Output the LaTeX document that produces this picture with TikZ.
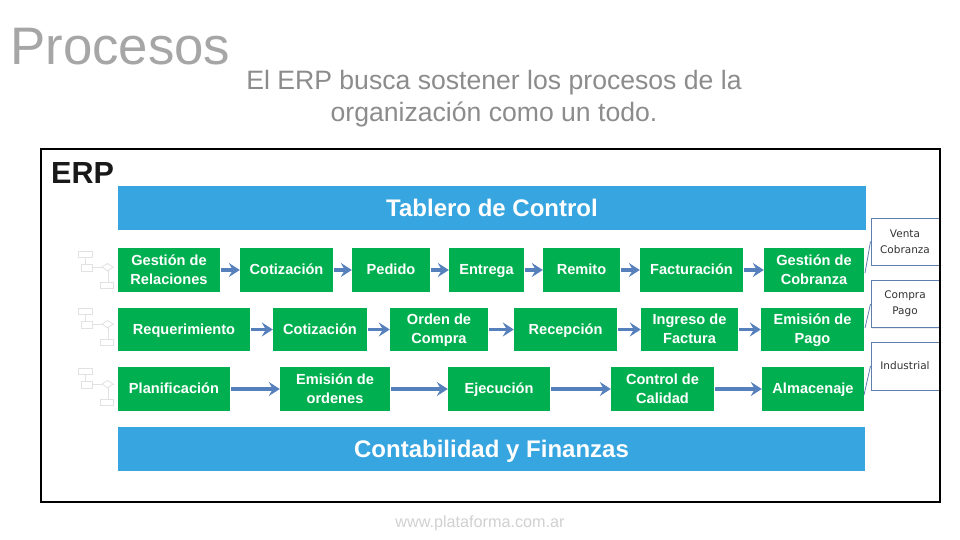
\documentclass[tikz,border=0pt]{standalone}
\usepackage{fontspec}
\setmainfont{Liberation Sans}
\newfontfamily\calloutfont{DejaVu Sans}
\usetikzlibrary{arrows.meta,shapes.geometric,shadows}
\definecolor{gboxc}{HTML}{00B050}
\definecolor{bboxc}{HTML}{36A5E0}
\definecolor{arrowc}{HTML}{5580BC}
\definecolor{titlec}{HTML}{A6A6A6}
\definecolor{subc}{HTML}{8C8C8C}
\definecolor{callc}{HTML}{5F7FAE}
\definecolor{iconc}{HTML}{E2E2E2}
\newcommand\gst{\vrule width 0pt height 13pt depth 3.5pt\relax}
\tikzset{
  x=1pt,y=-1pt,
  gbox/.style={fill=gboxc,text=white,font=\fontsize{14.6}{19}\selectfont\bfseries,align=center,inner sep=0pt,minimum height=44pt},
  bbox/.style={fill=bboxc,text=white,font=\fontsize{24}{27}\selectfont\bfseries,align=center,inner sep=0pt,minimum height=44pt,text height=19pt,text depth=3pt},
  flow/.style={draw=arrowc,line width=3.2pt,shorten <=1pt,-{Stealth[length=11pt,width=14pt,inset=4pt]}},
  callbox/.style={draw=callc,line width=1pt,fill=white,font=\calloutfont\fontsize{10.5}{15.8}\selectfont,text=black!80,align=center,inner sep=0pt,minimum width=68pt,minimum height=47pt},
  callline/.style={draw=callc,line width=0.8pt},
  iconbox/.style={draw=iconc,line width=0.8pt,fill=white,inner sep=0pt},
  iconline/.style={draw=iconc,line width=0.8pt},
  flowicon/.pic={
    \draw[iconline] (-2,3) -- (-2,17) (3,16) -- (27,16) (21,16) -- (21,33);
    \draw[iconbox] (-9,0) rectangle (5,6);
    \draw[iconbox] (-6,13) rectangle (5,20);
    \draw[iconbox] (15,16) -- (20.5,12.5) -- (26,16) -- (20.5,20) -- cycle;
    \draw[iconbox] (13,31) rectangle (26,37);
  }
}
\begin{document}
\begin{tikzpicture}
\useasboundingbox (0,0) rectangle (960,540);
\fill[white] (0,0) rectangle (960,540);

\node[anchor=west,inner sep=0pt,text=titlec,font=\fontsize{52.8}{60}\selectfont] (title) at (10,47) {Procesos};
\node[align=center,inner sep=0pt,text=subc,font=\fontsize{26.6}{32}\selectfont] (sub) at (494,99) {El ERP busca sostener los procesos de la\\organización como un todo.};

\node[anchor=west,inner sep=0pt,font=\fontsize{30.5}{34}\selectfont\bfseries,text=black!90] (erp) at (51,173) {ERP};

\node[bbox,minimum width=748pt] (tablero) at (492,208) {Tablero de Control};
\node[bbox,minimum width=747pt] (conta) at (491.5,449) {Contabilidad y Finanzas};

% row 1
\node[gbox,minimum width=102pt] (a1) at (169,270) {\gst Gestión de\\\gst Relaciones};
\node[gbox,minimum width=93pt] (a2) at (286.5,270) {\gst Cotización};
\node[gbox,minimum width=78pt] (a3) at (391,270) {\gst Pedido};
\node[gbox,minimum width=75pt] (a4) at (486.5,270) {\gst Entrega};
\node[gbox,minimum width=77pt] (a5) at (581.5,270) {\gst Remito};
\node[gbox,minimum width=103pt] (a6) at (691.5,270) {\gst Facturación};
\node[gbox,minimum width=100pt] (a7) at (814,270) {\gst Gestión de\\\gst Cobranza};
% row 2
\node[gbox,minimum width=132pt,minimum height=43pt] (b1) at (184,329.5) {\gst Requerimiento};
\node[gbox,minimum width=94pt,minimum height=43pt] (b2) at (320,329.5) {\gst Cotización};
\node[gbox,minimum width=98pt,minimum height=43pt] (b3) at (439,329.5) {\gst Orden de\\\gst Compra};
\node[gbox,minimum width=103pt,minimum height=43pt] (b4) at (565.5,329.5) {\gst Recepción};
\node[gbox,minimum width=97pt,minimum height=43pt] (b5) at (689.5,329.5) {\gst Ingreso de\\\gst Factura};
\node[gbox,minimum width=103pt,minimum height=43pt] (b6) at (812.5,329.5) {\gst Emisión de\\\gst Pago};
% row 3
\node[gbox,minimum width=112pt] (c1) at (174,389) {\gst Planificación};
\node[gbox,minimum width=110pt] (c2) at (335,389) {\gst Emisión de\\\gst ordenes};
\node[gbox,minimum width=102pt] (c3) at (499,389) {\gst Ejecución};
\node[gbox,minimum width=103pt] (c4) at (662.5,389) {\gst Control de\\\gst Calidad};
\node[gbox,minimum width=102pt] (c5) at (813,389) {\gst Almacenaje};

\foreach \p/\q in {a1/a2,a2/a3,a3/a4,a4/a5,a5/a6,a6/a7,b1/b2,b2/b3,b3/b4,b4/b5,b5/b6,c1/c2,c2/c3,c3/c4,c4/c5}
  \draw[flow] (\p.east) -- (\q.west);

% callouts
\node[callbox,drop shadow={opacity=0.15,shadow xshift=1pt,shadow yshift=-1pt}] (v1) at (905,241.5) {Venta\\Cobranza};
\node[callbox,drop shadow={opacity=0.15,shadow xshift=1pt,shadow yshift=-1pt}] (v2) at (905,304) {Compra\\Pago};
\node[callbox,minimum height=48pt,drop shadow={opacity=0.15,shadow xshift=1pt,shadow yshift=-1pt}] (v3) at (905,366) {Industrial};
\coordinate (e1) at (865,273);
\coordinate (e2) at (865,328);
\coordinate (e3) at (864,395);
\draw[callline] (v1.west) -- (e1);
\draw[callline] (v2.west) -- (e2);
\draw[callline] (v3.west) -- (e3);

\node[draw=black,line width=1.5pt,minimum width=899pt,minimum height=353pt,inner sep=0pt] (frame) at (490.5,325.5) {};

% small flow icons
\pic at (87,251) {flowicon};
\pic at (87,308) {flowicon};
\pic at (87,368) {flowicon};

\node[inner sep=0pt,text=black!18,font=\fontsize{16.2}{19}\selectfont] (web) at (480,523.5) {www.plataforma.com.ar};
\end{tikzpicture}
\end{document}
